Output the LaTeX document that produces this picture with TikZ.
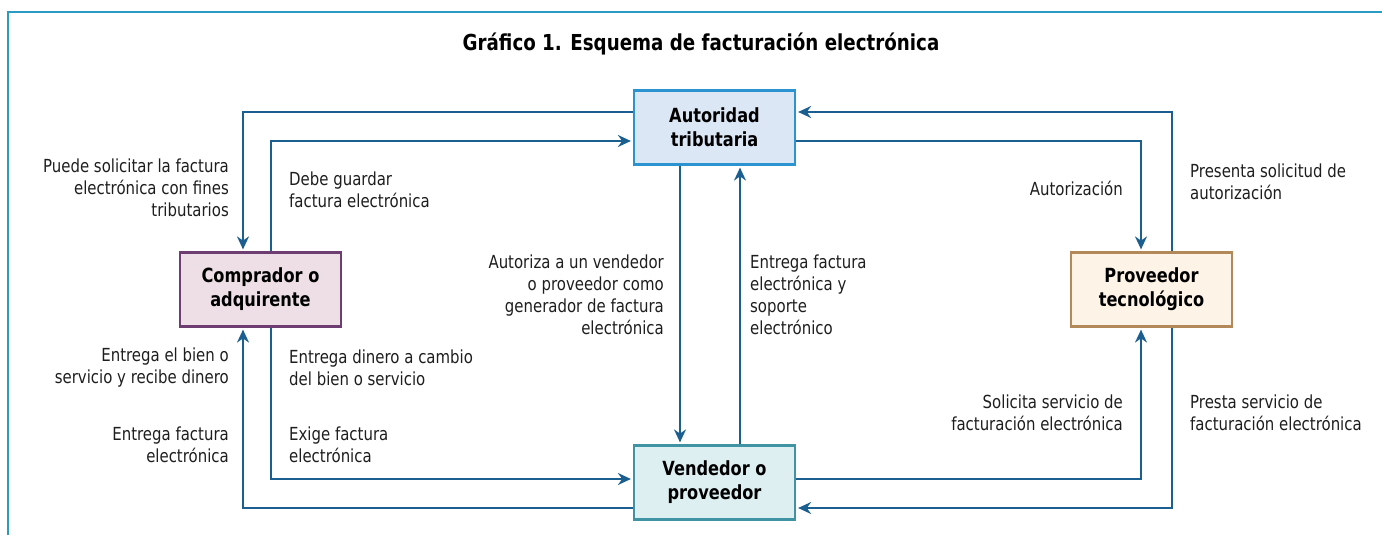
\documentclass[tikz,border=0pt]{standalone}
\usepackage{fontspec}
\setmainfont{DejaVu Sans}[FakeStretch=0.83]
\usetikzlibrary{arrows.meta}
\definecolor{framec}{HTML}{2A9BC2}
\definecolor{arrc}{HTML}{1B5F91}
\definecolor{txtc}{HTML}{1E1E1E}
\definecolor{autfill}{HTML}{DCE7F6}
\definecolor{autdraw}{HTML}{2A93D0}
\definecolor{compfill}{HTML}{EEDFE6}
\definecolor{compdraw}{HTML}{6E3E72}
\definecolor{provfill}{HTML}{FDF3E7}
\definecolor{provdraw}{HTML}{B3895A}
\definecolor{vendfill}{HTML}{DDEFF1}
\definecolor{venddraw}{HTML}{3F93A3}
\tikzset{
  boxnode/.style={draw, line width=2.2pt, minimum width=161pt, minimum height=74pt,
    align=center, font=\fontsize{19.5}{24}\selectfont\bfseries, text=black, inner sep=0pt},
  arr/.style={draw=arrc, line width=1.8pt, -{Stealth[length=13pt,width=12pt]}, shorten >=2pt},
  lbl/.style={font=\fontsize{18}{22}\selectfont, text=txtc, inner sep=0pt},
  lblr/.style={lbl, align=right, anchor=east},
  lbll/.style={lbl, align=left, anchor=west}
}
\begin{document}
\begin{tikzpicture}[x=1pt,y=-1pt]
\useasboundingbox (0,0) rectangle (1382,535);
% frame
\draw[framec, line width=1.6pt] (8,540) -- (8,12) -- (1390,12);
% title
\node[font=\fontsize{22}{24}\selectfont\bfseries, text=black, inner sep=0pt] (title) at (701,44) {Gráfico 1. Esquema de facturación electrónica};
% boxes
\node[boxnode, fill=autfill, draw=autdraw] (aut) at (714.5,127.5) {Autoridad\\tributaria};
\node[boxnode, fill=compfill, draw=compdraw] (comp) at (260.5,289.5) {Comprador o\\adquirente};
\node[boxnode, fill=provfill, draw=provdraw] (prov) at (1151.5,289.5) {Proveedor\\tecnológico};
\node[boxnode, fill=vendfill, draw=venddraw] (vend) at (714.5,482.5) {Vendedor o\\proveedor};
% connectors
\draw[arr] (aut.west |- 0,112) -| (comp.north -| 243,0);
\draw[arr] (comp.north -| 271,0) |- (aut.west |- 0,141);
\draw[arr] (aut.east |- 0,141) -| (prov.north -| 1141,0);
\draw[arr] (prov.north -| 1172,0) |- (aut.east |- 0,112);
\draw[arr] (aut.south -| 680,0) -- (vend.north -| 680,0);
\draw[arr] (vend.north -| 740,0) -- (aut.south -| 740,0);
\draw[arr] (comp.south -| 271,0) |- (vend.west |- 0,479);
\draw[arr] (vend.west |- 0,508) -| (comp.south -| 243,0);
\draw[arr] (vend.east |- 0,479) -| (prov.south -| 1141,0);
\draw[arr] (prov.south -| 1172,0) |- (vend.east |- 0,508);
% labels
\node[lblr] (l1) at (229,188) {Puede solicitar la factura\\electrónica con fines\\tributarios};
\node[lbll] (l2) at (289,190) {Debe guardar\\factura electrónica};
\node[lblr] (l3) at (229,368) {Entrega el bien o\\servicio y recibe dinero};
\node[lbll] (l4) at (289,368) {Entrega dinero a cambio\\del bien o servicio};
\node[lblr] (l5) at (229,445) {Entrega factura\\electrónica};
\node[lbll] (l6) at (289,445) {Exige factura\\electrónica};
\node[lblr] (l7) at (664,295) {Autoriza a un vendedor\\o proveedor como\\generador de factura\\electrónica};
\node[lbll] (l8) at (750,295) {Entrega factura\\electrónica y\\soporte\\electrónico};
\node[lblr] (l9) at (1123,188) {Autorización};
\node[lbll] (l10) at (1190,182) {Presenta solicitud de\\autorización};
\node[lblr] (l11) at (1123,413) {Solicita servicio de\\facturación electrónica};
\node[lbll] (l12) at (1190,413) {Presta servicio de\\facturación electrónica};
\end{tikzpicture}
\end{document}
